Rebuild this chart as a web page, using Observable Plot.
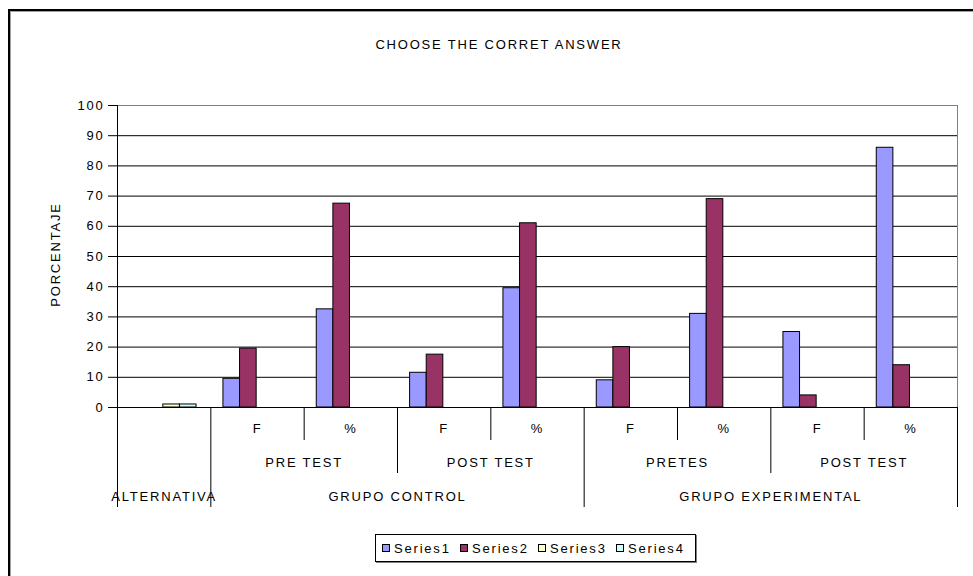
<!DOCTYPE html>
<html>
<head>
<meta charset="utf-8">
<script src="https://cdn.jsdelivr.net/npm/d3@7"></script>
<script src="https://cdn.jsdelivr.net/npm/@observablehq/plot@0.6"></script>
<style>
  body { margin: 0; background: #fff; }
  #wrap { position: relative; width: 973px; height: 576px; overflow: hidden;
          font-family: Arial, "Liberation Sans", sans-serif; font-size: 13px; letter-spacing: 1.8px; color: #000; }
  #chart { position: absolute; left: 0; top: 0; }
  #frame { position: absolute; left: 8px; top: 9px; width: 1000px; height: 1000px;
           border-left: 2px solid #000; border-top: 2px solid #000; box-shadow: inset 1px 1px 0 #a0a0a0; pointer-events: none; }
  #title { position: absolute; top: 37px; left: 0; width: 998px; text-align: center; line-height: 16px; }
  #legend { position: absolute; left: 375px; top: 534px; width: 321px; height: 28px; border: 1px solid #000;
            box-shadow: 1px 1px 0 #808080; display: flex; align-items: center; padding-left: 6px; box-sizing: border-box; }
  .item { display: flex; align-items: center; width: 78px; }
  .sw { width: 6px; height: 6px; border: 1px solid #000; margin-right: 4px; }
</style>
</head>
<body>
<div id="wrap">
  <div id="chart"></div>
  <div id="frame"></div>
  <div id="title"></div>
  <div id="legend"></div>
</div>
<script>
// ---- data ----
const chartTitle = "CHOOSE THE CORRET ANSWER";
const yLabel = "PORCENTAJE";
const leafLabels = ["", "F", "%", "F", "%", "F", "%", "F", "%"];
const midLabels  = ["", "PRE TEST", "PRE TEST", "POST TEST", "POST TEST", "PRETES", "PRETES", "POST TEST", "POST TEST"];
const topLabels  = ["ALTERNATIVA", "GRUPO CONTROL", "GRUPO CONTROL", "GRUPO CONTROL", "GRUPO CONTROL",
                    "GRUPO EXPERIMENTAL", "GRUPO EXPERIMENTAL", "GRUPO EXPERIMENTAL", "GRUPO EXPERIMENTAL"];
const seriesNames = ["Series1", "Series2", "Series3", "Series4"];
const series1 = [0, 9.5, 32.5, 11.5, 39.5, 9, 31, 25, 86];
const series2 = [0, 19.5, 67.5, 17.5, 61, 20, 69, 4, 14];
const series3 = [1, 0, 0, 0, 0, 0, 0, 0, 0];
const series4 = [1, 0, 0, 0, 0, 0, 0, 0, 0];
const seriesColors = ["#9999FF", "#993366", "#FFFFCC", "#CCFFFF"];
const yTicks = d3.range(0, 101, 10);

// ---- layout ----
const W = 973, H = 576;
const mTop = 105, mBottom = 169, mLeft = 117, mRight = 16;
const pxPerUnit = (H - mTop - mBottom) / 100;
const toUnits = px => -px / pxPerUnit;   // pixel depth below the axis -> y units
const barW = 0.178, barOff = 0.135;

const allSeries = [series1, series2, series3, series4];
const bars = [];
allSeries.forEach((vals, s) => vals.forEach((v, i) => {
  if (v > 0) bars.push({cat: i, s, name: seriesNames[s], value: v});
}));

// group runs
function runs(labels) {
  const out = [];
  labels.forEach((l, i) => {
    const last = out[out.length - 1];
    if (last && last.label === l && l !== "") last.end = i + 1;
    else out.push({label: l, start: i, end: i + 1});
  });
  return out;
}
const topRuns = runs(topLabels);
const midRuns = runs(midLabels.map((l, i) => l === "" ? "" : topLabels[i] + "|" + l))
  .map(r => ({...r, label: r.label.split("|").pop()}));
const topBounds = new Set(topRuns.flatMap(r => [r.start, r.end]));
const midBounds = new Set(midRuns.filter(r => r.label !== "").flatMap(r => [r.start, r.end]).filter(b => !topBounds.has(b)));
const leafBounds = d3.range(0, leafLabels.length + 1).filter(b => !topBounds.has(b) && !midBounds.has(b));
const dividers = [
  ...[...topBounds].map(x => ({x, depth: 100})),
  ...[...midBounds].map(x => ({x, depth: 66})),
  ...leafBounds.map(x => ({x, depth: 33}))
];

const plot = Plot.plot({
  width: W, height: H,
  marginTop: mTop, marginBottom: mBottom, marginLeft: mLeft, marginRight: mRight,
  style: {fontFamily: "Arial, 'Liberation Sans', sans-serif", fontSize: "13px", letterSpacing: "1.8px",
          color: "#000", background: "transparent"},
  x: {domain: [0, leafLabels.length], axis: null},
  y: {domain: [0, 100], axis: null},
  marks: [
    Plot.ruleY(yTicks.filter(t => t > 0 && t < 100), {stroke: "#000", strokeWidth: 1}),
    Plot.ruleY([100], {stroke: "#808080"}),
    Plot.ruleX([leafLabels.length], {y1: 0, y2: 100, stroke: "#808080"}),
    Plot.rect(bars, {
      x1: d => d.cat + barOff + d.s * barW,
      x2: d => d.cat + barOff + (d.s + 1) * barW,
      y1: 0, y2: "value",
      fill: d => seriesColors[d.s], stroke: "#000", strokeWidth: 1
    }),
    Plot.ruleY([0], {stroke: "#000"}),
    Plot.ruleX([0], {y1: 0, y2: 100, stroke: "#000"}),
    Plot.ruleX(dividers, {x: "x", y1: 0, y2: d => toUnits(d.depth), stroke: "#000"}),
    Plot.axisY(yTicks, {tickSize: 9, tickPadding: 4, label: null, stroke: "#000", fill: "#000"}),
    Plot.text([yLabel], {frameAnchor: "left", textAnchor: "middle", rotate: -90, dx: -62, dy: -2, fill: "#000"}),
    Plot.text(leafLabels.map((l, i) => ({l, i})).filter(d => d.l !== ""),
      {x: d => d.i + 0.5, y: 0, text: "l", dy: 21, fill: "#000"}),
    Plot.text(midRuns.filter(r => r.label !== ""),
      {x: d => (d.start + d.end) / 2, y: 0, text: "label", dy: 55, fill: "#000"}),
    Plot.text(topRuns,
      {x: d => (d.start + d.end) / 2, y: 0, text: "label", dy: 89, fill: "#000"})
  ]
});
document.getElementById("chart").appendChild(plot);
document.getElementById("title").textContent = chartTitle;
const legend = document.getElementById("legend");
seriesNames.forEach((n, s) => {
  const it = document.createElement("div"); it.className = "item";
  const sw = document.createElement("div"); sw.className = "sw"; sw.style.background = seriesColors[s];
  const tx = document.createElement("span"); tx.textContent = n;
  it.appendChild(sw); it.appendChild(tx); legend.appendChild(it);
});
</script>
</body>
</html>
